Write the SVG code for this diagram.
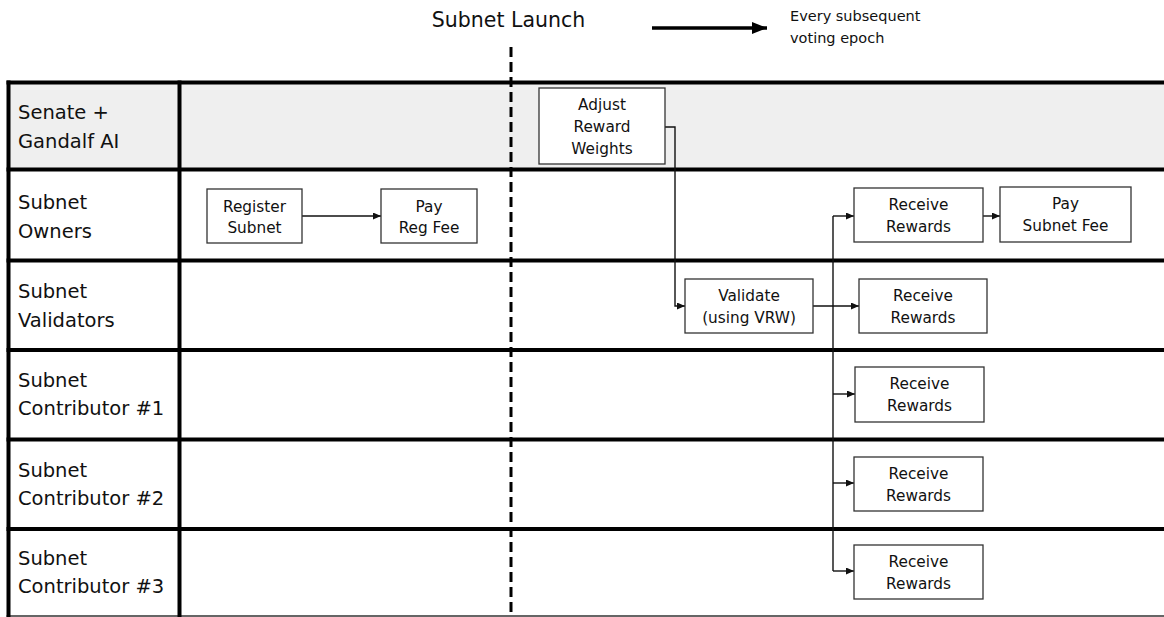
<svg xmlns="http://www.w3.org/2000/svg" width="1164" height="617" viewBox="0 0 1164 617">
<style>
  .lane { fill: none; stroke: #000; stroke-width: 4; }
  .lbl { font-family: "DejaVu Sans", "Liberation Sans", sans-serif; font-size: 19.5px; fill: #111; }
  .box { fill: #fff; stroke: #333; stroke-width: 1.3; }
  .bt { font-family: "DejaVu Sans", "Liberation Sans", sans-serif; font-size: 15.3px; fill: #111; text-anchor: middle; }
  .conn { fill: none; stroke: #111; stroke-width: 1.4; }
  .hdr { font-family: "DejaVu Sans", "Liberation Sans", sans-serif; fill: #111; }
</style>
<defs>
  <marker id="ah" markerUnits="userSpaceOnUse" markerWidth="9" markerHeight="8" refX="8" refY="3.5" orient="auto">
    <path d="M0,0 L8,3.5 L0,7 z" fill="#111"/>
  </marker>
  <marker id="bigah" markerUnits="userSpaceOnUse" markerWidth="16" markerHeight="12" refX="15" refY="6" orient="auto">
    <path d="M0,0 L15,6 L0,12 z" fill="#000"/>
  </marker>
</defs>

<g id="header">
  <text class="hdr" x="508.5" y="27" font-size="20.5" text-anchor="middle">Subnet Launch</text>
  <line x1="652" y1="28" x2="767" y2="28" stroke="#000" stroke-width="3.5" marker-end="url(#bigah)"/>
  <text class="hdr" x="790" y="21" font-size="14.5">Every subsequent</text>
  <text class="hdr" x="790" y="43" font-size="14.5">voting epoch</text>
</g>

<g id="table">
  <rect x="8" y="82.5" width="1156" height="87" fill="#efefef"/>
  <line class="lane" x1="6.5" y1="82.5" x2="1164" y2="82.5"/>
  <line class="lane" x1="6.5" y1="169.5" x2="1164" y2="169.5"/>
  <line class="lane" x1="6.5" y1="260.5" x2="1164" y2="260.5"/>
  <line class="lane" x1="6.5" y1="350" x2="1164" y2="350"/>
  <line class="lane" x1="6.5" y1="439.5" x2="1164" y2="439.5"/>
  <line class="lane" x1="6.5" y1="529" x2="1164" y2="529"/>
  <line x1="6.5" y1="616" x2="1164" y2="616" stroke="#333" stroke-width="1.5"/>
  <line class="lane" x1="8.5" y1="80.5" x2="8.5" y2="617"/>
  <line class="lane" x1="179.5" y1="80.5" x2="179.5" y2="617"/>
</g>

<g id="lane-labels">
  <text class="lbl" x="18" y="119">Senate +</text>
  <text class="lbl" x="18" y="148">Gandalf AI</text>
  <text class="lbl" x="18" y="209">Subnet</text>
  <text class="lbl" x="18" y="238">Owners</text>
  <text class="lbl" x="18" y="298">Subnet</text>
  <text class="lbl" x="18" y="327">Validators</text>
  <text class="lbl" x="18" y="387">Subnet</text>
  <text class="lbl" x="18" y="415">Contributor #1</text>
  <text class="lbl" x="18" y="477">Subnet</text>
  <text class="lbl" x="18" y="505">Contributor #2</text>
  <text class="lbl" x="18" y="565">Subnet</text>
  <text class="lbl" x="18" y="593">Contributor #3</text>
</g>

<g id="launch-line">
  <line x1="511" y1="47" x2="511" y2="617" stroke="#000" stroke-width="3" stroke-dasharray="10 5"/>
</g>

<g id="connectors">
  <line class="conn" x1="302" y1="216" x2="381" y2="216" marker-end="url(#ah)"/>
  <polyline class="conn" points="665,127 675,127 675,306 685,306" marker-end="url(#ah)"/>
  <line class="conn" x1="813" y1="306" x2="859" y2="306" marker-end="url(#ah)"/>
  <line class="conn" x1="833" y1="216" x2="833" y2="571"/>
  <line class="conn" x1="833" y1="216" x2="854" y2="216" marker-end="url(#ah)"/>
  <line class="conn" x1="833" y1="394" x2="855" y2="394" marker-end="url(#ah)"/>
  <line class="conn" x1="833" y1="483" x2="854" y2="483" marker-end="url(#ah)"/>
  <line class="conn" x1="833" y1="571" x2="854" y2="571" marker-end="url(#ah)"/>
  <line class="conn" x1="983" y1="216" x2="1000" y2="216" marker-end="url(#ah)"/>
</g>

<g id="register-subnet">
  <rect class="box" x="207" y="189" width="95" height="54"/>
  <text class="bt" x="254.5" y="212">Register</text>
  <text class="bt" x="254.5" y="233">Subnet</text>
</g>
<g id="pay-reg-fee">
  <rect class="box" x="381" y="189" width="96" height="54"/>
  <text class="bt" x="429" y="212">Pay</text>
  <text class="bt" x="429" y="233">Reg Fee</text>
</g>
<g id="adjust-reward-weights">
  <rect class="box" x="539" y="88" width="126" height="76"/>
  <text class="bt" x="602" y="110">Adjust</text>
  <text class="bt" x="602" y="132">Reward</text>
  <text class="bt" x="602" y="154">Weights</text>
</g>
<g id="validate">
  <rect class="box" x="685" y="279" width="128" height="54"/>
  <text class="bt" x="749" y="301">Validate</text>
  <text class="bt" x="749" y="323">(using VRW)</text>
</g>
<g id="owners-receive">
  <rect class="box" x="854" y="188" width="129" height="54"/>
  <text class="bt" x="918.5" y="210">Receive</text>
  <text class="bt" x="918.5" y="232">Rewards</text>
</g>
<g id="pay-subnet-fee">
  <rect class="box" x="1000" y="187" width="131" height="55"/>
  <text class="bt" x="1065.5" y="209">Pay</text>
  <text class="bt" x="1065.5" y="231">Subnet Fee</text>
</g>
<g id="validators-receive">
  <rect class="box" x="859" y="279" width="128" height="54"/>
  <text class="bt" x="923" y="301">Receive</text>
  <text class="bt" x="923" y="323">Rewards</text>
</g>
<g id="contrib1-receive">
  <rect class="box" x="855" y="367" width="129" height="55"/>
  <text class="bt" x="919.5" y="389">Receive</text>
  <text class="bt" x="919.5" y="411">Rewards</text>
</g>
<g id="contrib2-receive">
  <rect class="box" x="854" y="457" width="129" height="54"/>
  <text class="bt" x="918.5" y="479">Receive</text>
  <text class="bt" x="918.5" y="501">Rewards</text>
</g>
<g id="contrib3-receive">
  <rect class="box" x="854" y="545" width="129" height="54"/>
  <text class="bt" x="918.5" y="567">Receive</text>
  <text class="bt" x="918.5" y="589">Rewards</text>
</g>
</svg>
